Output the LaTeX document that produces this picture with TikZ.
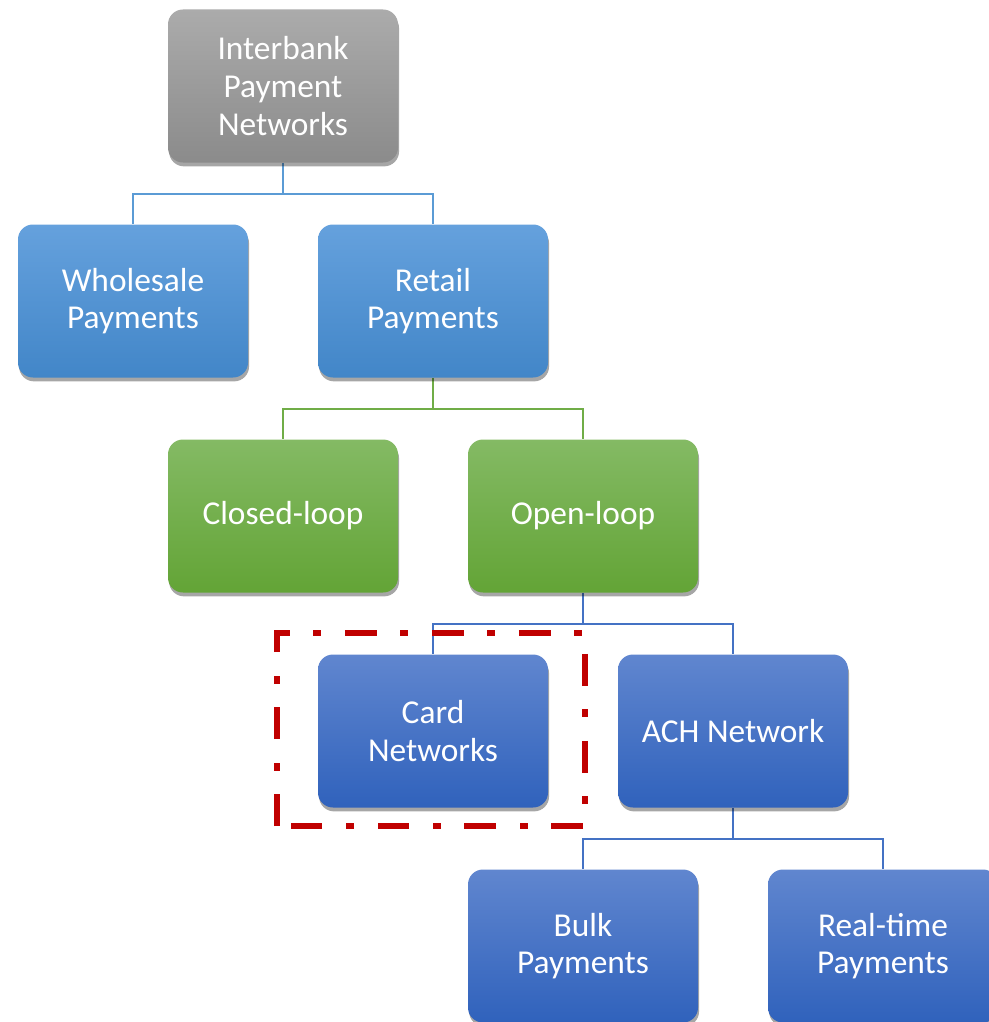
\documentclass[tikz,border=0pt]{standalone}
\usepackage{fontspec}
\setmainfont{Carlito}
\usepackage{tikz}
\usetikzlibrary{shadows,backgrounds}
\definecolor{figgrayA}{RGB}{171,171,171}
\definecolor{figgrayB}{RGB}{139,139,139}
\definecolor{figskyA}{RGB}{101,161,221}
\definecolor{figskyB}{RGB}{66,134,200}
\definecolor{figgreenA}{RGB}{132,186,100}
\definecolor{figgreenB}{RGB}{99,164,54}
\definecolor{figblueA}{RGB}{96,134,207}
\definecolor{figblueB}{RGB}{48,98,188}
\definecolor{lnsky}{RGB}{91,155,213}
\definecolor{lngreen}{RGB}{112,173,71}
\definecolor{lnblue}{RGB}{68,114,196}
\definecolor{figred}{RGB}{192,0,0}
\tikzset{
  box/.style    ={rounded corners=8.5pt, minimum width=4.6cm, minimum height=3.06cm,
                  align=center, text=white, font=\fontsize{19}{21.5}\selectfont,
                  drop shadow={shadow xshift=0.6pt, shadow yshift=-2.2pt, opacity=0.35, fill=black}},
  boxgray/.style ={box, top color=figgrayA, bottom color=figgrayB},
  boxsky/.style  ={box, top color=figskyA, bottom color=figskyB},
  boxgreen/.style={box, top color=figgreenA, bottom color=figgreenB},
  boxblue/.style ={box, top color=figblueA, bottom color=figblueB},
  conn/.style    ={line width=1.1pt},
  hilite/.style  ={draw=figred, line width=3.8pt,
                  dash pattern=on 18pt off 13.5pt on 4.5pt off 13.5pt},
}
\begin{document}
\begin{tikzpicture}
  \useasboundingbox (0,0) rectangle (19.78,-20.44);
  \coordinate (t)  at (5.66,-1.72);
  \coordinate (w)  at (2.66,-6.02);
  \coordinate (r)  at (8.66,-6.02);
  \coordinate (cl) at (5.66,-10.32);
  \coordinate (op) at (11.66,-10.32);
  \coordinate (cd) at (8.66,-14.62);
  \coordinate (ac) at (14.66,-14.62);
  \coordinate (bk) at (11.66,-18.92);
  \coordinate (rt) at (17.66,-18.92);

  \node[boxgray]  (top)       at (t)  {Interbank\\Payment\\Networks};
  \node[boxsky]   (wholesale) at (w)  {Wholesale\\Payments};
  \node[boxsky]   (retail)    at (r)  {Retail\\Payments};
  \node[boxgreen] (closed)    at (cl) {Closed-loop};
  \node[boxgreen] (open)      at (op) {Open-loop};
  \node[boxblue]  (card)      at (cd) {Card\\Networks};
  \node[boxblue]  (ach)       at (ac) {ACH Network};
  \node[boxblue]  (bulk)      at (bk) {Bulk\\Payments};
  \node[boxblue]  (realtime)  at (rt) {Real-time\\Payments};

  % connectors behind the boxes
  \begin{scope}[on background layer]
  \draw[conn,lnsky]   (top.south) -- ++(0,-0.62) -| (wholesale.north);
  \draw[conn,lnsky]   (top.south) -- ++(0,-0.62) -| (retail.north);
  \draw[conn,lngreen] (retail.south) -- ++(0,-0.62) -| (closed.north);
  \draw[conn,lngreen] (retail.south) -- ++(0,-0.62) -| (open.north);
  \draw[conn,lnblue]  (open.south) -- ++(0,-0.62) -| (card.north);
  \draw[conn,lnblue]  (open.south) -- ++(0,-0.62) -| (ach.north);
  \draw[conn,lnblue]  (ach.south) -- ++(0,-0.62) -| (bulk.north);
  \draw[conn,lnblue]  (ach.south) -- ++(0,-0.62) -| (realtime.north);
  \end{scope}

  % highlight round the card networks
  \draw[hilite] (5.54,-16.52) rectangle (11.70,-12.66);
\end{tikzpicture}
\end{document}
